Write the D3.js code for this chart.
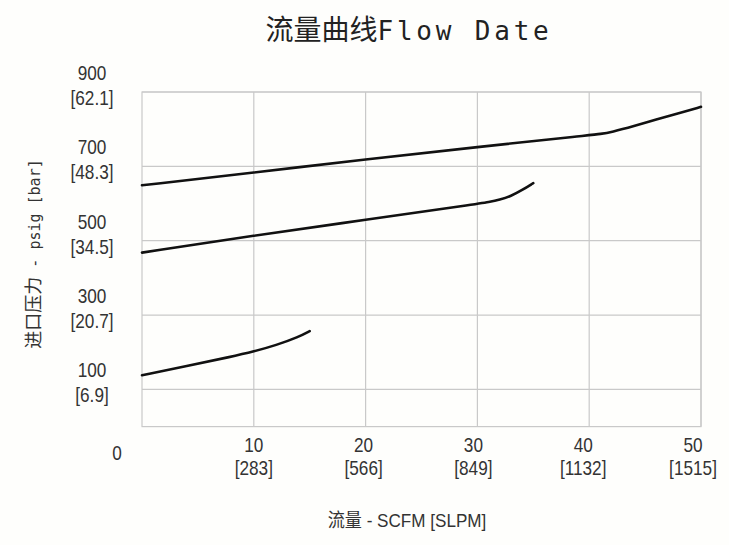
<!DOCTYPE html>
<html>
<head>
<meta charset="utf-8">
<script src="https://cdn.jsdelivr.net/npm/d3@7"></script>
<style>
  body { margin: 0; background: #fefefc; }
  svg { display: block; }
</style>
</head>
<body>
<div id="chart"></div>
<script>
var width = 729;
var height = 545;
var plotLeft = 142, plotRight = 701, plotTop = 92, plotBottom = 426.6;

// ticks, psi / bar and scfm / slpm
var yTicks = [100, 300, 500, 700, 900];
var yTickBar = ["6.9", "20.7", "34.5", "48.3", "62.1"];
var xTicks = [10, 20, 30, 40, 50];
var xTickSlpm = ["283", "566", "849", "1132", "1515"];

// curves (flow scfm, pressure psig)
var lowFlow = [0, 4, 8, 10, 12, 14, 15];
var lowPsi = [138, 163, 188, 202, 219, 241, 257];
var midFlow = [0, 10, 20, 30, 31, 32, 33, 34, 35];
var midPsi = [468, 514, 556, 599, 604, 610, 620, 636, 655];
var highFlow = [0, 10, 20, 30, 40, 41, 42, 44, 46, 48, 50];
var highPsi = [649, 683, 719, 752, 784, 787, 792, 808, 826, 843, 860];

var svg = d3.select("#chart").append("svg")
    .attr("width", width)
    .attr("height", height);

var x = d3.scaleLinear().domain([0, 50]).range([plotLeft, plotRight]);
var y = d3.scaleLinear().domain([0, 900]).range([plotBottom, plotTop]);

// grid
var grid = svg.append("g").attr("stroke", "#c9c9c9").attr("stroke-width", 1.2);
grid.selectAll("line.h").data(yTicks).enter().append("line")
    .attr("x1", plotLeft).attr("x2", plotRight)
    .attr("y1", d => y(d)).attr("y2", d => y(d));
grid.selectAll("line.v").data(xTicks).enter().append("line")
    .attr("y1", plotTop).attr("y2", plotBottom)
    .attr("x1", d => x(d)).attr("x2", d => x(d));
grid.append("rect")
    .attr("x", plotLeft).attr("y", plotTop)
    .attr("width", plotRight - plotLeft).attr("height", plotBottom - plotTop)
    .attr("fill", "none");

var labelFont = "'Liberation Sans', Arial, sans-serif";

// narrow-looking label: squeeze horizontally
function label(g, tx, ty, txt) {
    g.append("text")
        .attr("transform", "translate(" + tx + "," + ty + ") scale(0.86,1)")
        .text(txt);
}

// y labels, two lines each
var yl = svg.append("g").attr("font-family", labelFont).attr("font-size", 20)
    .attr("fill", "#333").attr("text-anchor", "middle");
yTicks.forEach(function (t, i) {
    var cy = y(t) - 8;
    label(yl, 92, cy - 4, t);
    label(yl, 92, cy + 21, "[" + yTickBar[i] + "]");
});
label(yl, 117, 460, "0");

// x labels
var xl = svg.append("g").attr("font-family", labelFont).attr("font-size", 20)
    .attr("fill", "#333").attr("text-anchor", "middle");
xTicks.forEach(function (t, i) {
    var cx = x(t) - i * 2;
    label(xl, cx, 452, t);
    label(xl, cx, 475, "[" + xTickSlpm[i] + "]");
});

// curves
var line = d3.line()
    .x(d => x(d[0]))
    .y(d => y(d[1]))
    .curve(d3.curveBasis);

[[lowFlow, lowPsi], [midFlow, midPsi], [highFlow, highPsi]].forEach(function (s) {
    var pts = s[0].map((f, i) => [f, s[1][i]]);
    svg.append("path")
        .attr("d", line(pts))
        .attr("fill", "none")
        .attr("stroke", "#111")
        .attr("stroke-width", 2.6)
        .attr("stroke-linecap", "round");
});

// title
var title = svg.append("text")
    .attr("x", 409).attr("y", 40)
    .attr("text-anchor", "middle")
    .attr("fill", "#222");
title.append("tspan")
    .attr("font-family", "'Noto Sans CJK SC', sans-serif")
    .attr("font-size", 28).attr("font-weight", 400)
    .text("流量曲线");
title.append("tspan")
    .attr("font-family", "'DejaVu Sans Mono', monospace")
    .attr("font-size", 26).attr("letter-spacing", 3.8)
    .text("Flow Date");

// axis titles
var xt = svg.append("text")
    .attr("transform", "translate(407,527) scale(0.9,1)")
    .attr("text-anchor", "middle")
    .attr("fill", "#333");
xt.append("tspan").attr("font-family", "'Noto Sans CJK SC', sans-serif")
    .attr("font-size", 19).text("流量");
xt.append("tspan").attr("font-family", labelFont)
    .attr("font-size", 19).text(" - SCFM [SLPM]");

var yt = svg.append("text")
    .attr("transform", "translate(40,254) rotate(-90)")
    .attr("text-anchor", "middle")
    .attr("fill", "#333");
yt.append("tspan").attr("font-family", "'Noto Sans CJK SC', sans-serif")
    .attr("font-size", 18).text("进口压力");
yt.append("tspan").attr("font-family", "'DejaVu Sans Mono', monospace")
    .attr("font-size", 15).text(" - psig [bar]");
</script>
</body>
</html>
